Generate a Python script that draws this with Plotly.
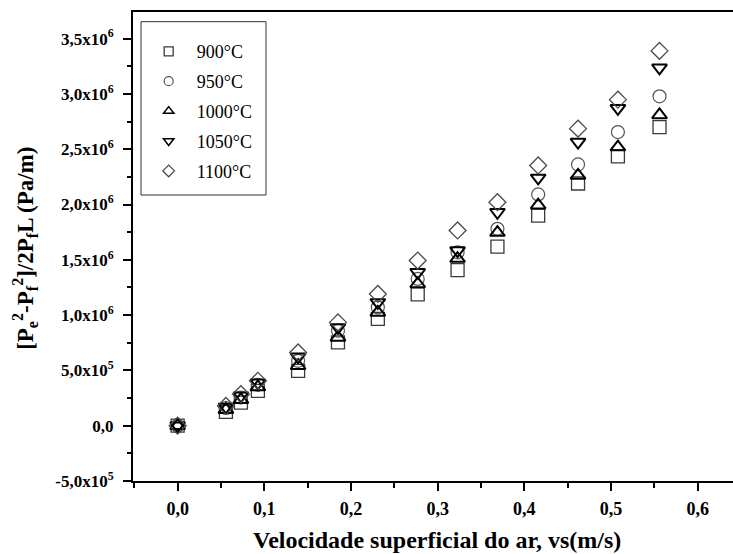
import plotly.graph_objects as go

# Data
velocidade = [0.0, 0.0557, 0.073, 0.0926, 0.139, 0.185, 0.231, 0.277, 0.323, 0.369, 0.416, 0.462, 0.508, 0.556]
t900 = [0.0, 0.125e6, 0.209e6, 0.315e6, 0.496e6, 0.753e6, 0.965e6, 1.188e6, 1.407e6, 1.620e6, 1.900e6, 2.190e6, 2.435e6, 2.700e6]
t950 = [0.0, 0.160e6, 0.255e6, 0.370e6, 0.587e6, 0.859e6, 1.070e6, 1.327e6, 1.568e6, 1.780e6, 2.091e6, 2.362e6, 2.655e6, 2.978e6]
t1000 = [0.0, 0.145e6, 0.235e6, 0.350e6, 0.542e6, 0.798e6, 1.024e6, 1.282e6, 1.511e6, 1.746e6, 1.994e6, 2.263e6, 2.519e6, 2.810e6]
t1050 = [0.0, 0.170e6, 0.270e6, 0.388e6, 0.623e6, 0.889e6, 1.115e6, 1.387e6, 1.583e6, 1.930e6, 2.240e6, 2.564e6, 2.870e6, 3.236e6]
t1100 = [0.0, 0.179e6, 0.285e6, 0.406e6, 0.662e6, 0.934e6, 1.191e6, 1.493e6, 1.765e6, 2.021e6, 2.353e6, 2.686e6, 2.948e6, 3.389e6]

series_names = ["900°C", "950°C", "1000°C", "1050°C", "1100°C"]
series_values = [t900, t950, t1000, t1050, t1100]

y_tickvals = [-5e5, 0, 5e5, 1e6, 1.5e6, 2e6, 2.5e6, 3e6, 3.5e6]
y_ticktext = ["-5,0x10<sup>5</sup>", "0,0", "5,0x10<sup>5</sup>", "1,0x10<sup>6</sup>",
              "1,5x10<sup>6</sup>", "2,0x10<sup>6</sup>", "2,5x10<sup>6</sup>",
              "3,0x10<sup>6</sup>", "3,5x10<sup>6</sup>"]

styles = [
    dict(symbol="square-open", color="#3a3a3a", lw=1.3),
    dict(symbol="circle-open", color="#555555", lw=1.2),
    dict(symbol="triangle-up-open", color="#000000", lw=2.0),
    dict(symbol="triangle-down-open", color="#000000", lw=2.0),
    dict(symbol="diamond-open", color="#4a4a4a", lw=1.3),
]

FONT = "Liberation Serif, Times New Roman, serif"

fig = go.Figure()
for name, vals, st in zip(series_names, series_values, styles):
    fig.add_trace(go.Scatter(
        x=velocidade, y=vals, mode="markers", name=name, showlegend=False,
        marker=dict(symbol=st["symbol"], size=13, color=st["color"],
                    line=dict(width=st["lw"], color=st["color"])),
    ))
for name, st in zip(series_names, styles):
    fig.add_trace(go.Scatter(
        x=[None], y=[None], mode="markers", name=name, legendgroup=name,
        marker=dict(symbol=st["symbol"], size=9, color=st["color"],
                    line=dict(width=min(st["lw"], 1.5), color=st["color"])),
    ))

axis_common = dict(
    showline=True, linecolor="black", linewidth=2,
    ticks="outside", tickcolor="black", tickwidth=2, ticklen=8,
    showgrid=False, zeroline=False,
)

fig.update_layout(
    width=733, height=554,
    margin=dict(l=133, r=0, t=12, b=73),
    paper_bgcolor="white", plot_bgcolor="white",
    separators=",.",
    font=dict(family=FONT, color="black"),
    xaxis=dict(
        range=[-0.0515, 0.6408], tickmode="linear", tick0=0, dtick=0.1,
        tickformat=".1f", mirror=True, ticklabelstandoff=2,
        minor=dict(ticks="outside", tickmode="linear", tick0=0, dtick=0.05,
                   ticklen=5, tickwidth=2, tickcolor="black"),
        tickfont=dict(family=FONT, size=18, color="black", weight="bold"),
        **axis_common,
    ),
    yaxis=dict(
        range=[-5e5, 3.7405e6], tickmode="array", tickvals=y_tickvals, ticktext=y_ticktext,
        ticklabelstandoff=6,
        minor=dict(ticks="outside", tickmode="linear", tick0=0, dtick=2.5e5,
                   ticklen=4, tickwidth=2, tickcolor="black"),
        tickfont=dict(family=FONT, size=17, color="black", weight="bold"),
        **axis_common,
    ),
    legend=dict(
        x=0.0128, y=0.955, xanchor="left", yanchor="top",
        borderwidth=0, bgcolor="rgba(0,0,0,0)",
        font=dict(family=FONT, size=18, color="black"),
        tracegroupgap=3.5, itemwidth=46,
    ),
    shapes=[
        dict(type="rect", xref="paper", yref="paper",
             x0=(141 - 133) / 600, x1=(266 - 133) / 600,
             y0=(481 - 195) / 469, y1=(481 - 21.7) / 469,
             line=dict(color="#333333", width=1), fillcolor="rgba(0,0,0,0)", layer="below"),
    ],
    annotations=[
        dict(text="<b>Velocidade superficial do ar, vs(m/s)</b>", xref="paper", yref="paper",
             x=0.507, y=-0.126, xanchor="center", yanchor="middle", showarrow=False,
             font=dict(family=FONT, size=24, color="black")),
        dict(text="<b>[P<sub>e</sub><sup>2</sup>-P<sub>f</sub><sup>2</sup>]/2P<sub>f</sub>L (Pa/m)</b>",
             xref="paper", yref="paper", x=-0.18, y=0.495, xanchor="center", yanchor="middle",
             textangle=-90, showarrow=False, font=dict(family=FONT, size=23, color="black")),
    ],
)

fig.write_html("out.html")
